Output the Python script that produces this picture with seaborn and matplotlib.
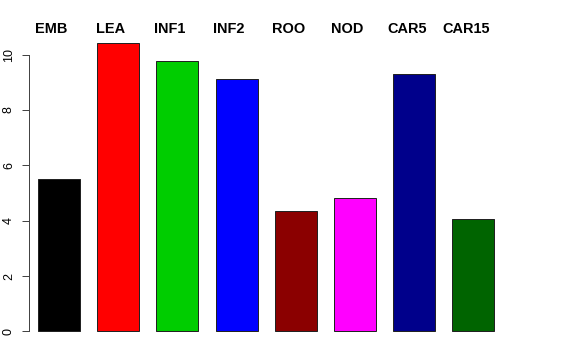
import matplotlib
matplotlib.use("Agg")
import matplotlib.pyplot as plt
import matplotlib.transforms as mtransforms
import seaborn as sns
import pandas as pd

categories = ["EMB", "LEA", "INF1", "INF2", "ROO", "NOD", "CAR5", "CAR15"]
values = [5.51, 10.43, 9.75, 9.13, 4.36, 4.82, 9.31, 4.06]
colors = ["#000000", "#FF0000", "#00CD00", "#0000FF", "#8B0000", "#FF00FF", "#00008B", "#006400"]
yticks = [0, 2, 4, 6, 8, 10]

sns.set_style("white")
plt.rcParams["font.family"] = ["Liberation Sans", "DejaVu Sans"]

df = pd.DataFrame({"cat": categories, "val": values})

fig = plt.figure(figsize=(8, 5), dpi=72)
ax = fig.add_axes([29 / 576, 17 / 360, 474 / 576, 312 / 360])
sns.barplot(data=df, x="cat", y="val", hue="cat", palette=colors, legend=False,
            width=0.71, edgecolor="#222222", linewidth=1.0, saturation=1, ax=ax)

ax.set_xlim(-0.507, 7.5)
ax.set_ylim(-0.42, 10.85)
ax.set_xlabel("")
ax.set_ylabel("")
ax.set_xticks([])
ax.set_yticks(yticks)
ax.set_yticklabels([str(t) for t in yticks], rotation=90, va="center", fontsize=12.5, color="black")
ax.tick_params(axis="y", length=7, width=1, color="#444444", pad=7, left=True)
for s in ["top", "right", "bottom"]:
    ax.spines[s].set_visible(False)
ax.spines["left"].set_bounds(0, 10)
ax.spines["left"].set_color("#444444")
ax.spines["left"].set_linewidth(1)

trans = mtransforms.blended_transform_factory(ax.transData, fig.transFigure)
for i, c in enumerate(categories):
    ax.text(i - 0.127, 1 - 29 / 360, c, transform=trans, ha="center", va="center",
            fontsize=14.5, fontweight="bold", color="black", clip_on=False)

fig.savefig("out.png", dpi=72)
